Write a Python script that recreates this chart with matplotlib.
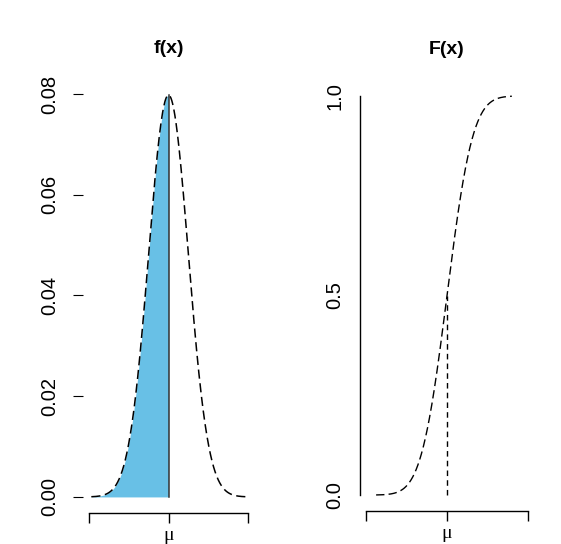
import numpy as np
import matplotlib
matplotlib.use("Agg")
import matplotlib.pyplot as plt
from math import erf, sqrt

# Data / parameters
mu = 0.0
sigma = 5.0
pdf_range = (-19.5, 19.5)
cdf_range = (-17.5, 16.0)
x_ticks = [-20.0, 0.0, 20.0]
x_ticklabels = ["", "\u03bc", ""]
pdf_yticks = [0.00, 0.02, 0.04, 0.06, 0.08]
pdf_yticklabels = ["0.00", "0.02", "0.04", "0.06", "0.08"]
cdf_yticks = [0.0, 0.5, 1.0]
cdf_yticklabels = ["0.0", "0.5", "1.0"]
titles = ["f(x)", "F(x)"]
fill_color = "#68c0e6"

def norm_pdf(x):
    return np.exp(-0.5 * ((x - mu) / sigma) ** 2) / (sigma * np.sqrt(2 * np.pi))

def norm_cdf(x):
    return np.array([0.5 * (1 + erf((v - mu) / (sigma * sqrt(2)))) for v in np.atleast_1d(x)])

W, H = 561, 544
fig = plt.figure(figsize=(W / 100, H / 100), dpi=100)

def ax_px(x0, x1, y0, y1):
    return fig.add_axes([x0 / W, 1 - y1 / H, (x1 - x0) / W, (y1 - y0) / H])

sans = "Liberation Sans"
span = x_ticks[-1] - x_ticks[0]
xlim = (x_ticks[0] - 0.04 * span, x_ticks[-1] + 0.04 * span)

# ---------- left: pdf ----------
ax1 = ax_px(83, 254, 79, 513)
xs = np.linspace(*pdf_range, 400)
ys = norm_pdf(xs)
ymax = ys.max()
ax1.set_xlim(*xlim)
ax1.set_ylim(-0.04 * ymax, ymax * 1.04)
xl = xs[xs <= mu]
xl = np.append(xl, mu)
ax1.fill_between(xl, 0, norm_pdf(xl), color=fill_color, linewidth=0)
ax1.plot([mu, mu], [0, norm_pdf(mu)], color="#333333", lw=1.1)
ax1.plot(xs, ys, color="black", lw=1.1, linestyle=(0, (6, 3)))

# ---------- right: cdf ----------
ax2 = ax_px(359.5, 534.5, 80, 511)
xc = np.linspace(*cdf_range, 400)
yc = norm_cdf(xc)
ax2.set_xlim(*xlim)
ax2.set_ylim(-0.04, 1.04)
ax2.plot(xc, yc, color="black", lw=1.0, linestyle=(0, (6, 3)))
ax2.plot([mu, mu], [0, 0.5], color="black", lw=1.0, linestyle=(0, (4, 3)))

for ax, yt, ytl, title in [(ax1, pdf_yticks, pdf_yticklabels, titles[0]),
                           (ax2, cdf_yticks, cdf_yticklabels, titles[1])]:
    ax.set_facecolor("none")
    for s in ["top", "right"]:
        ax.spines[s].set_visible(False)
    ax.spines["bottom"].set_bounds(x_ticks[0], x_ticks[-1])
    ax.spines["bottom"].set_linewidth(1.0)
    ax.set_xticks(x_ticks)
    ax.set_xticklabels(x_ticklabels, fontfamily="Liberation Serif", fontsize=14)
    ax.tick_params(axis="x", direction="out", length=7, width=1.0, pad=3)
    ax.set_yticks(yt)
    ax.set_yticklabels(ytl, fontfamily=sans, fontsize=14.5, rotation=90, va="center")
    ax.set_title(title, fontfamily=sans, fontsize=14, fontweight="bold", pad=19)

ax1.spines["left"].set_visible(False)
ax1.tick_params(axis="y", direction="out", length=7, width=0.8, pad=10)
ax2.spines["left"].set_bounds(0, 1)
ax2.spines["left"].set_linewidth(1.0)
ax2.tick_params(axis="y", length=0, pad=11)

fig.savefig("out.png", dpi=100)
